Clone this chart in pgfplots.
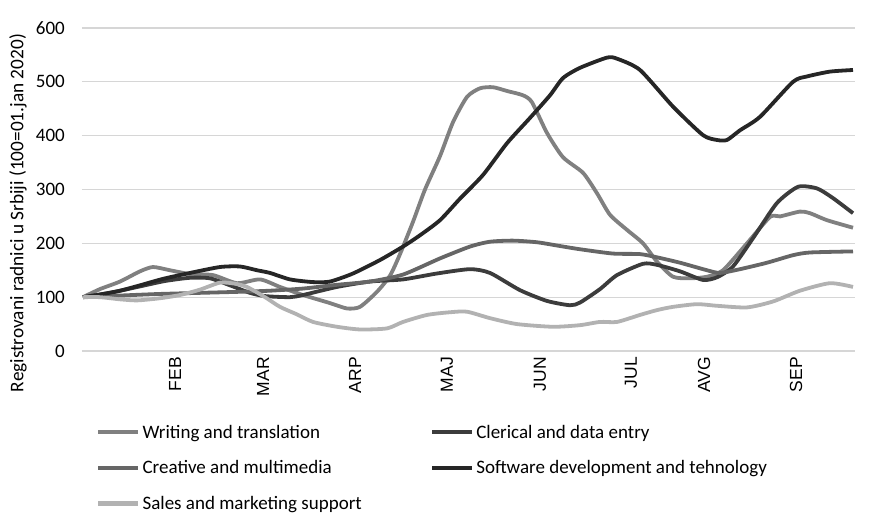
\documentclass[border=0pt]{standalone}
\usepackage{pgfplots}
\pgfplotsset{compat=1.18}
\usepackage{fontspec}
\setmainfont{Carlito}
\newfontfamily\arialfont{Liberation Sans}
\definecolor{cW}{HTML}{808080}
\definecolor{cC}{HTML}{3C3C3C}
\definecolor{cM}{HTML}{666666}
\definecolor{cS}{HTML}{262626}
\definecolor{cL}{HTML}{B2B2B2}
\begin{document}
\begin{tikzpicture}
\useasboundingbox (-82bp,-169bp) rectangle (788bp,351bp);
\begin{axis}[
  scale only axis, width=773bp, height=323bp,
  at={(0,0)}, anchor=south west,
  xmin=82, xmax=855, ymin=0, ymax=600,
  axis line style={draw=none},
  major tick length=0pt,
  ytick={0,100,...,600},
  ymajorgrids, grid style={line width=1.2bp, color=black!16},
  xtick={175,263,355,447,540,631,704,796},
  xticklabels={FEB,MAR,ARP,MAJ,JUN,JUL,AVG,SEP},
  xticklabel style={yshift=-6bp, rotate=90, anchor=east, inner sep=0pt, font=\arialfont\fontsize{17.5bp}{19bp}\selectfont},
  yticklabel style={xshift=-17bp, anchor=east, inner sep=0pt, font=\fontsize{19bp}{21bp}\selectfont},
  /pgf/number format/assume math mode=true,
  ylabel={Registrovani radnici u Srbiji (100=01.jan 2020)},
  every axis y label/.style={at={(axis description cs:-0.0828,0.427)}, rotate=90, anchor=center, font=\fontsize{19.3bp}{21bp}\selectfont},
  legend columns=2,
  legend style={at={(axis description cs:0.018,-0.222)}, anchor=north west, draw=none, inner sep=0pt, font=\fontsize{19bp}{21bp}\selectfont, row sep=17bp, /tikz/column 2/.style={column sep=66bp}},
  legend cell align=left,
  legend image code/.code={\draw[#1, line width=4.5bp] (0bp,0bp) -- (40bp,0bp);},
  every axis plot/.append style={line width=3.8bp, smooth, tension=0.4, line join=round},
]
\addplot[cW] coordinates {
(83,100) (100,115) (120,129) (140,148) (153,156) (170,150) (190,143) (213,141) (237,126) (260,133) (280,119) (303,104) (330,89) (347,79) (360,82) (377,110) (390,140) (400,180) (413,240) (425,300) (440,362) (453,425) (467,472) (480,488) (493,490) (507,483) (523,475) (532,462) (547,405) (563,360) (583,331) (597,293) (610,253) (627,225) (643,200) (657,166) (673,138) (690,135) (707,138) (723,150) (747,200) (770,249) (780,250) (800,259) (810,256) (827,243) (853,229)};
\addlegendentry{Writing and translation}
\addplot[cC] coordinates {
(83,100) (110,108) (140,120) (165,130) (190,136) (210,135) (230,122) (250,108) (265,102) (290,100) (303,104) (337,119) (370,129) (403,133) (437,144) (470,152) (490,145) (520,113) (547,93) (570,85) (580,90) (600,115) (617,141) (643,162) (657,160) (680,148) (703,132) (717,137) (733,157) (755,215) (777,275) (798,305) (817,302) (833,284) (853,256)};
\addlegendentry{Clerical and data entry}
\addplot[cM] coordinates {
(83,100) (120,103) (160,106) (200,108) (240,110) (270,112) (303,116) (337,123) (370,129) (403,142) (440,172) (470,194) (490,203) (513,205) (537,202) (560,195) (580,189) (613,181) (640,180) (657,174) (680,164) (707,150) (720,145) (740,152) (767,164) (793,178) (810,183) (853,185)};
\addlegendentry{Creative and multimedia}
\addplot[cS] coordinates {
(83,100) (100,105) (120,112) (140,122) (163,134) (190,145) (220,156) (240,157) (257,150) (270,145) (290,133) (313,128) (330,129) (353,144) (380,169) (403,194) (420,215) (440,243) (460,283) (483,327) (507,386) (530,433) (550,475) (563,507) (580,526) (607,545) (617,543) (640,522) (673,454) (703,401) (717,392) (727,392) (740,410) (760,435) (793,500) (807,510) (830,519) (853,522)};
\addlegendentry{Software development and tehnology}
\addplot[cL] coordinates {
(83,100) (100,100) (120,96) (137,94) (160,98) (180,104) (200,114) (220,127) (235,125) (247,119) (265,100) (280,82) (297,68) (313,54) (337,45) (360,40) (387,42) (403,54) (427,67) (450,72) (467,73) (490,61) (517,50) (553,45) (580,48) (600,54) (617,54) (640,67) (657,76) (673,82) (697,87) (717,84) (747,81) (773,92) (800,112) (830,126) (853,119)};
\addlegendentry{Sales and marketing support}
\end{axis}
\end{tikzpicture}
\end{document}
